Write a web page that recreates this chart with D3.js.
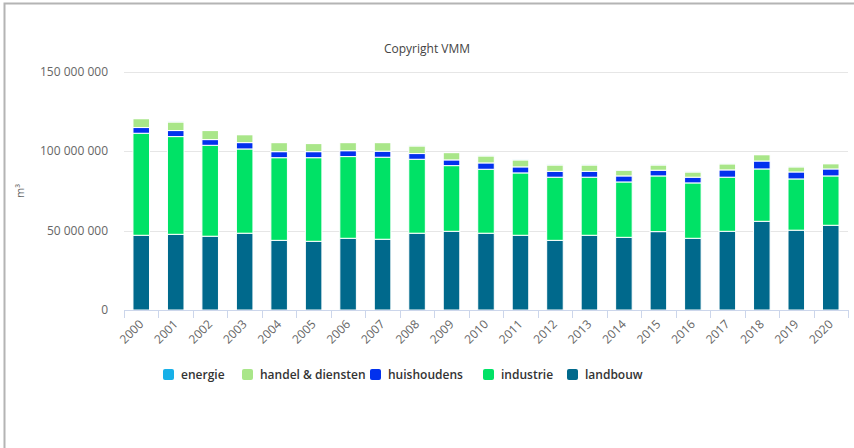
<!DOCTYPE html>
<html>
<head>
<meta charset="utf-8">
<script src="https://cdn.jsdelivr.net/npm/d3@7"></script>
<style>
  body { margin: 0; background: #fff; }
  svg { font-family: "Open Sans", "DejaVu Sans", sans-serif; display: block; }
</style>
</head>
<body>
<div class="chart"></div>
<script>
const years = ['2000','2001','2002','2003','2004','2005','2006','2007','2008','2009','2010',
  '2011','2012','2013','2014','2015','2016','2017','2018','2019','2020'];
// values in millions of m³
const landbouw = [47.1, 47.7, 46.5, 48.4, 43.9, 43.3, 45.2, 44.6, 48.4, 49.6, 48.4,
  47.1, 43.9, 47.1, 45.8, 49.4, 45.2, 49.6, 55.9, 50.3, 53.4];
const industrie = [64.3, 61.6, 57.3, 53.1, 52.1, 52.7, 51.5, 51.7, 46.6, 41.4, 40.3,
  39.3, 39.8, 36.6, 34.9, 35.1, 34.9, 34.1, 33.0, 32.3, 31.1];
const huishoudens = [3.6, 3.8, 3.6, 4.0, 3.8, 3.8, 3.7, 3.8, 3.6, 3.6, 4.0,
  3.8, 3.7, 3.7, 3.8, 3.6, 3.6, 4.6, 5.0, 4.4, 4.4];
const handel = [5.6, 5.4, 5.7, 5.0, 5.7, 5.1, 5.1, 5.4, 4.8, 4.6, 4.4,
  4.4, 4.0, 4.0, 3.6, 3.3, 3.3, 3.8, 4.0, 3.2, 3.3];
const energie = [0.1, 0.1, 0.1, 0.1, 0.1, 0.1, 0.1, 0.1, 0.1, 0.1, 0.1,
  0.1, 0.1, 0.1, 0.1, 0.1, 0.1, 0.1, 0.1, 0.1, 0.1];
const yTicks = [0, 50e6, 100e6, 150e6];

// legend order; stacking is bottom-up from the last one
const series = [
  { name: 'energie', values: energie, color: '#17b0e8' },
  { name: 'handel & diensten', values: handel, color: '#a9e689' },
  { name: 'huishoudens', values: huishoudens, color: '#0231ee' },
  { name: 'industrie', values: industrie, color: '#00e266' },
  { name: 'landbouw', values: landbouw, color: '#00698c' }
];

const W = 854, H = 448;
const margin = { top: 72, right: 6, bottom: 138, left: 124 };
const width = W - margin.left - margin.right;
const height = H - margin.top - margin.bottom;

const svg = d3.select('.chart').append('svg').attr('width', W).attr('height', H);

// outer frame
svg.append('path').attr('d', 'M4.5,448 V3.5 H854').attr('fill', 'none').attr('stroke', '#b4b4b4').attr('stroke-width', 2);

svg.append('text')
  .attr('x', 427).attr('y', 53)
  .attr('text-anchor', 'middle')
  .attr('font-size', 12).attr('fill', '#444')
  .text('Copyright VMM');

const g = svg.append('g').attr('transform', 'translate(' + margin.left + ',' + margin.top + ')');

const x = d3.scaleBand().domain(years).range([0, width]).paddingInner(0.52).paddingOuter(0.26);
const y = d3.scaleLinear().domain([0, 150e6]).range([height, 0]);

// grid
g.selectAll('.grid').data(yTicks.filter(d => d > 0)).enter().append('line')
  .attr('x1', 0).attr('x2', width)
  .attr('y1', d => Math.round(y(d)) + 0.5).attr('y2', d => Math.round(y(d)) + 0.5)
  .attr('stroke', '#e6e6e6');

// y labels
g.selectAll('.ylab').data(yTicks).enter().append('text')
  .attr('x', -16).attr('y', d => y(d) + 4)
  .attr('text-anchor', 'end')
  .attr('font-size', 12).attr('fill', '#666')
  .text(d => d3.format(',')(d).replace(/,/g, ' '));

svg.append('text')
  .attr('transform', 'translate(24,' + (margin.top + height / 2) + ') rotate(-90)')
  .attr('text-anchor', 'middle')
  .attr('font-size', 11).attr('fill', '#666')
  .text('m³');

// stacked bars
const table = years.map((yr, i) => {
  const row = { year: yr };
  series.forEach(s => (row[s.name] = s.values[i] * 1e6));
  return row;
});
const keys = series.map(s => s.name).reverse();
const stacked = d3.stack().keys(keys)(table);
const colorOf = d3.scaleOrdinal().domain(series.map(s => s.name)).range(series.map(s => s.color));

g.selectAll('.layer').data(stacked).enter().append('g')
  .attr('fill', d => colorOf(d.key))
  .selectAll('rect').data(d => d).enter().append('rect')
  .attr('x', d => x(d.data.year))
  .attr('width', x.bandwidth())
  .attr('y', d => y(d[1]))
  .attr('height', d => Math.max(0, y(d[0]) - y(d[1])))
  .attr('stroke', '#fff').attr('stroke-width', 1);

// x axis
const step = x.step();
g.append('line').attr('x1', 0).attr('x2', width).attr('y1', height + 0.5).attr('y2', height + 0.5).attr('stroke', '#ccd6eb');
g.selectAll('.xtick').data(d3.range(years.length + 1)).enter().append('line')
  .attr('x1', i => Math.round(i * step) + 0.5).attr('x2', i => Math.round(i * step) + 0.5)
  .attr('y1', height).attr('y2', height + 8)
  .attr('stroke', '#ccd6eb');
g.selectAll('.xlab').data(years).enter().append('text')
  .attr('transform', d => 'translate(' + (x(d) + x.bandwidth() / 2 + 3) + ',' + (height + 15) + ') rotate(-45)')
  .attr('text-anchor', 'end')
  .attr('font-size', 12).attr('fill', '#666')
  .text(d => d);

// legend
const legendX = [163, 242, 370, 483, 567];
const legend = svg.selectAll('.legend').data(series).enter().append('g')
  .attr('transform', (d, i) => 'translate(' + legendX[i] + ',369)');
legend.append('rect').attr('width', 11).attr('height', 11).attr('rx', 2).attr('fill', d => d.color);
legend.append('text').attr('x', 18).attr('y', 10)
  .attr('font-size', 12).attr('font-weight', 600).attr('fill', '#333')
  .text(d => d.name);
</script>
</body>
</html>
